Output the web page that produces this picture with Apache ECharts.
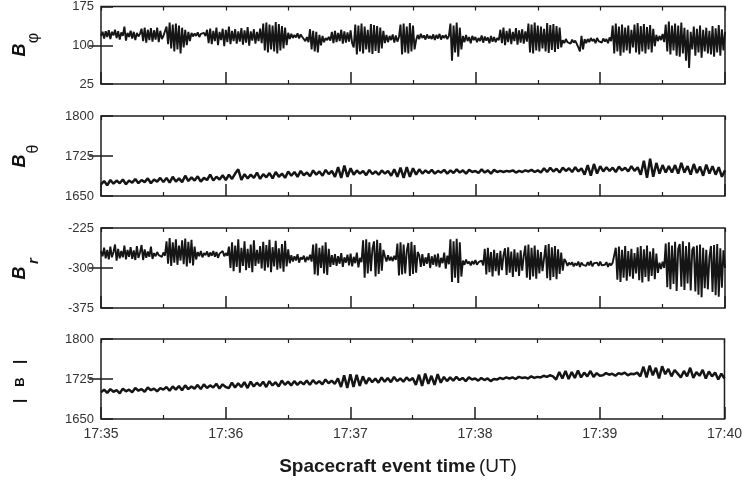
<!DOCTYPE html>
<html>
<head>
<meta charset="utf-8">
<script src="https://cdn.jsdelivr.net/npm/echarts@6/dist/echarts.min.js"></script>
<style>html,body{margin:0;padding:0;background:#fff;}#c{width:745px;height:490px;}</style>
</head>
<body>
<div id="c"></div>
<script>
// each series is sampled evenly over 17:35:00 - 17:40:00 (300 s)
const SPAN = 300;
const timeTicks = ['17:35','17:36','17:37','17:38','17:39','17:40'];

const bPhi = [118,126,113,127,116,129,112,126,119,130,114,127,111,125,118,136,109,124,116,128,113,126,110,124,117,122,
132,108,134,105,130,110,133,107,129,111,134,106,128,112,
118,121,
136,102,144,94,140,88,142,92,138,84,134,96,130,100,126,108,
124,117,123,118,125,116,122,119,124,118,
130,104,132,102,128,108,134,100,126,110,132,98,130,106,136,102,128,108,131,103,127,107,133,101,129,105,135,99,127,109,131,103,126,108,132,104,
142,90,144,86,140,92,138,88,145,84,141,90,137,94,134,100,
124,112,122,114,120,115,123,113,121,116,
114,108,116,106,131,92,128,88,126,86,120,100,118,106,114,110,116,109,
126,104,128,106,124,108,130,103,127,105,125,107,129,104,
96,140,82,138,88,142,84,136,92,130,86,141,83,139,89,137,85,134,94,128,
104,120,106,118,110,121,105,119,107,116,
140,82,142,86,136,84,143,88,138,92,
110,120,112,122,114,119,111,121,113,118,112,121,110,120,113,122,111,119,114,120,112,118,
142,70,138,86,144,78,134,92,
118,106,120,108,116,104,118,110,116,106,114,108,119,105,117,109,115,104,118,107,116,106,114,110,
130,104,134,100,128,106,132,102,126,108,133,101,129,105,131,103,127,107,
142,86,140,84,144,90,138,88,136,94,132,88,143,85,139,91,141,87,137,93,134,96,
110,104,112,106,108,103,111,105,109,106,
96,88,118,92,112,104,
112,106,114,108,112,104,114,108,111,105,113,107,112,104,115,108,
138,84,142,88,136,80,140,86,134,90,138,84,130,96,140,86,143,82,137,88,141,84,135,92,139,86,132,98,
120,108,118,110,122,106,
140,88,146,82,138,90,142,80,138,78,144,84,134,70,130,56,126,92,
136,80,132,86,138,76,130,88,134,84,128,82,137,78,133,86,139,80,131,90,126];

const bTheta = [1672,1678,1670,1680,1673,1679,1674,1681,1672,1679,1675,1682,1674,1680,1676,1683,1674,1681,1677,1684,1676,
1684,1675,1686,1677,1683,1676,1688,1678,1685,1679,1687,1677,1684,1680,1690,1679,1686,1681,1689,1680,
1690,1682,1692,1700,1680,1691,1683,1690,1684,1694,1682,1691,1685,1693,1683,1695,1686,1692,1684,1696,
1688,1695,1686,1697,1689,1694,1687,1698,1690,1696,1688,1699,1691,1697,1686,1704,1684,1707,1686,1702,
1690,1698,1692,1697,1689,1699,1691,1696,1690,1698,1692,1697,1688,1700,1686,1703,1684,1704,1686,1702,
1690,1700,1692,1698,1693,1699,1692,1697,1694,1699,1692,1698,1693,1700,1694,1698,1692,1699,1695,1697,1693,1700,1694,1698,1692,1699,1695,
1697,1695,1697,1696,1698,1694,1697,1695,1698,1696,1699,1695,1698,
1694,1702,1695,1703,1696,1701,1694,1703,1697,1702,1695,1704,1696,1702,1690,1708,1688,1710,1692,1706,
1696,1704,1697,1703,1695,1705,1698,1703,1696,1706,1697,1704,
1690,1716,1684,1720,1686,1712,1692,1708,1694,1706,
1694,1708,1692,1712,1694,1706,1690,1710,1693,1705,1688,1709,1692,1706,1690,1704,1686,1698];

const bR = [-268,-278,-262,-282,-266,-284,-260,-280,-270,-256,-286,-264,-282,-268,-280,-258,-284,-266,-279,-261,-283,-267,-285,-259,-281,-271,-257,-285,-265,-281,-269,-279,-260,-283,
-272,-278,-270,-276,-273,-279,-271,-277,
-250,-292,-244,-296,-252,-290,-246,-294,-258,-286,-248,-293,-245,-297,-251,-291,-247,-295,-260,-284,
-270,-278,-268,-280,-272,-276,-269,-279,-271,-277,-268,-279,-270,-281,-273,-276,-268,-278,-272,-277,
-260,-300,-252,-306,-258,-298,-246,-309,-262,-296,-250,-304,-264,-300,-256,-308,-248,-296,-266,-292,-259,-301,-251,-305,-257,-299,-247,-308,-261,-297,-249,-303,-263,-301,-255,-307,-249,-297,-265,-291,
-276,-288,-278,-286,-274,-290,-280,-284,-277,-289,-279,-285,-275,-288,
-256,-312,-254,-314,-262,-300,-258,-310,-252,-313,-264,-298,
-276,-294,-274,-296,-278,-292,-272,-298,-280,-290,-275,-295,-273,-297,-279,-291,-271,-299,-281,-289,
-248,-318,-246,-310,-252,-306,-264,-250,-316,-247,-311,-253,-305,-266,
-278,-288,-276,-286,-279,-287,-277,-285,
-254,-314,-252,-312,-256,-310,-268,-253,-315,-251,-311,-257,-309,-270,
-276,-298,-274,-296,-280,-292,-272,-300,-278,-294,-275,-297,-273,-299,-281,-291,-271,-301,-277,-293,
-246,-326,-250,-318,-245,-328,-252,-316,
-286,-294,-284,-292,-288,-295,-287,-293,-285,-294,-289,-292,-286,-295,
-264,-312,-262,-308,-270,-316,-266,-306,-272,-314,-268,-304,-276,-263,-313,-261,-309,-269,-317,-265,-307,-271,-315,-267,-305,-277,
-258,-318,-256,-322,-262,-316,-258,-320,-266,-310,-270,-306,-282,-257,-319,-255,-323,-261,-317,-259,-321,-265,-311,-271,-305,-283,
-288,-296,-290,-294,-289,-297,-291,-295,-288,-298,-290,-294,-292,-296,-289,-295,-287,-297,-291,-293,-290,-296,-288,-295,-292,-294,-289,-298,-291,-295,-290,-293,
-262,-322,-260,-326,-266,-318,-259,-324,-268,-316,-264,-320,-272,-310,-261,-323,-259,-327,-265,-317,-258,-325,-269,-315,-263,-321,-273,-309,
-290,-302,-288,-300,
-254,-336,-252,-340,-258,-330,-251,-343,-264,-255,-335,-250,-341,-259,-329,-252,-342,-266,
-260,-344,-258,-350,-256,-355,-262,-338,-266,-340,-280,-259,-345,-257,-351,-255,-354,-263,-337,-267,-300];

const bMag = [1700,1705,1699,1706,1701,1704,1698,1707,1702,1705,1700,1708,1703,1706,1701,1709,1704,1707,1702,1708,1705,
1710,1703,1711,1705,1712,1704,1713,1706,1711,1707,1714,1706,1715,1708,1713,1709,1716,1707,1715,1710,
1708,1718,1709,1717,1710,1719,1708,1720,1711,1718,1712,1720,1710,1721,1713,1719,1711,1722,1714,1720,
1713,1721,1714,1720,1715,1722,1714,1723,1716,1721,1715,1724,1717,1722,1716,1726,1710,1732,1708,1734,
1710,1733,1712,1730,1716,1727,1719,1726,1718,1728,1720,1727,1719,1729,1721,1726,1720,1728,1722,1727,
1714,1733,1712,1735,1716,1731,1714,1734,1718,1729,1721,1728,1722,1729,1723,1727,1721,1728,1724,1726,
1722,1727,1723,1726,1721,1725,1724,1727,1725,1728,1726,1728,1725,1729,1727,1728,1726,1730,1727,1729,
1728,1731,1729,1732,1730,1724,1738,1726,1740,1725,1738,1727,1741,1728,1737,1730,1740,1729,1736,1731,
1732,1736,1733,1735,1731,1736,1734,1737,1732,1735,1734,1737,
1730,1748,1728,1750,1732,1746,1726,1749,1734,1744,1730,1742,1735,
1728,1740,1730,1746,1727,1738,1731,1742,1726,1739,1730,1737,1724,1735,1726];

const panels = [
  {data: bPhi,   ticks: [25, 100, 175],     width: 1.9},
  {data: bTheta, ticks: [1650, 1725, 1800], width: 2.5},
  {data: bR,     ticks: [-375, -300, -225], width: 1.9},
  {data: bMag,   ticks: [1650, 1725, 1800], width: 2.5}
];

const FONT = 'Liberation Sans';
const tops = [4, 116, 228, 339];
const H = 80;
const grids = [], xAxes = [], yAxes = [], series = [];

panels.forEach((p, k) => {
  grids.push({left: 101, right: 20, top: tops[k], height: H, show: true,
    borderColor: '#1e1e1e', borderWidth: 1.5, backgroundColor: 'transparent'});
  xAxes.push({type: 'value', gridIndex: k, position: 'bottom', min: 0, max: SPAN, interval: 60,
    axisLine: {show: false},
    axisTick: {show: true, inside: true, length: 12, lineStyle: {color: '#1e1e1e', width: 1.5}},
    minorTick: {show: true, splitNumber: 2, length: 4, lineStyle: {color: '#1e1e1e', width: 1.2}},
    splitLine: {show: false},
    axisLabel: {show: k === 3, margin: 8, color: '#333', fontSize: 14, fontFamily: FONT,
      formatter: v => timeTicks[Math.round(v / 60)]}
  });
  xAxes.push({type: 'value', gridIndex: k, position: 'top', min: 0, max: SPAN, interval: 30,
    axisLine: {show: false},
    axisTick: {show: true, inside: true, length: 4, lineStyle: {color: '#1e1e1e', width: 1.2}},
    splitLine: {show: false}, axisLabel: {show: false}
  });
  yAxes.push({type: 'value', gridIndex: k, position: 'left', min: p.ticks[0], max: p.ticks[2],
    axisLine: {show: false}, splitLine: {show: false},
    axisTick: {show: true, inside: true, length: 12, customValues: p.ticks, lineStyle: {color: '#1e1e1e', width: 1.5}},
    axisLabel: {show: true, customValues: p.ticks, margin: 7, color: '#333', fontSize: 13, fontFamily: FONT,
      formatter: v => String(v)}
  });
  const step = SPAN / (p.data.length - 1);
  series.push({type: 'line', xAxisIndex: 2 * k, yAxisIndex: k, showSymbol: false, animation: false,
    lineStyle: {color: '#151515', width: p.width},
    data: p.data.map((v, i) => [i * step, v])});
});
panels.forEach((p, k) => {
  yAxes.push({type: 'value', gridIndex: k, position: 'right', min: p.ticks[0], max: p.ticks[2],
    axisLine: {show: false}, splitLine: {show: false}, axisLabel: {show: false},
    axisTick: {show: true, inside: true, length: 12, customValues: [p.ticks[1]], lineStyle: {color: '#1e1e1e', width: 1.5}}
  });
});

function rot(text, x, y, font) {
  return {type: 'text', x: x, y: y, rotation: Math.PI / 2,
    style: {text: text, fill: '#111', font: font,
      textAlign: 'center', textVerticalAlign: 'middle', align: 'center', verticalAlign: 'middle'}};
}
const BIG = 'italic bold 18px "Liberation Sans"';
const SUB = 'normal 16px "Liberation Sans"';
const graphic = [
  rot('B', 20, 50, BIG),
  rot('φ', 34, 38, SUB),
  rot('B', 20, 161, BIG),
  rot('θ', 34, 149, SUB),
  rot('B', 20, 273, BIG),
  rot('r', 34, 261, 'italic bold 15px "Liberation Sans"'),
  rot('|', 20, 401, 'bold 15px "Liberation Sans"'),
  rot('B', 20, 382, 'bold 13px "Liberation Sans"'),
  rot('|', 20, 362, 'bold 15px "Liberation Sans"'),
  {type: 'text', x: 398, y: 467, style: {text: '{b|Spacecraft event time} {n|(UT)}',
    textAlign: 'center', textVerticalAlign: 'middle', align: 'center', verticalAlign: 'middle',
    rich: {b: {fontFamily: FONT, fontSize: 19, fontWeight: 'bold', fill: '#1a1a1a'},
           n: {fontFamily: FONT, fontSize: 19, fill: '#1a1a1a'}}}}
];

const chart = echarts.init(document.getElementById('c'), null, {renderer: 'canvas'});
chart.setOption({animation: false, backgroundColor: '#fff', grid: grids, xAxis: xAxes, yAxis: yAxes, series: series, graphic: graphic});
</script>
</body>
</html>
